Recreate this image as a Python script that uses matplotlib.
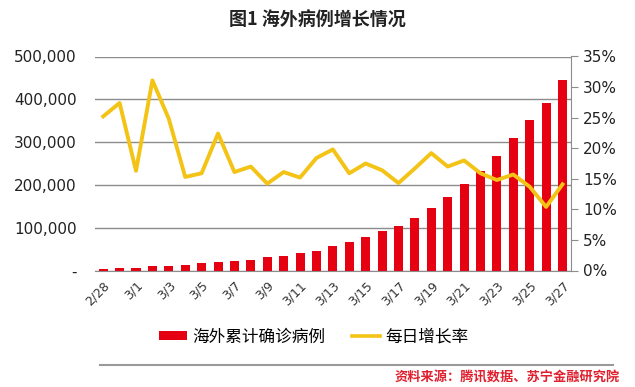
import matplotlib
matplotlib.use("Agg")
import matplotlib.pyplot as plt
from matplotlib.lines import Line2D
from matplotlib.patches import Patch
from matplotlib.ticker import FuncFormatter, PercentFormatter

plt.rcParams['font.family'] = ['DejaVu Sans', 'Noto Sans CJK SC']
CJK = ['Noto Sans CJK SC', 'DejaVu Sans']

# Data
dates = ["2/28", "2/29"] + [f"3/{d}" for d in range(1, 28)]
cases = [3000, 6500, 6500, 10000, 10000, 13500, 17000, 20000, 23000, 25000,
         31000, 35000, 41000, 46000, 58000, 67000, 79000, 92000, 104000, 122000,
         146000, 171000, 202000, 233000, 267000, 310000, 352000, 391000, 446000]
growth = [25.2, 27.4, 16.3, 31.1, 24.8, 15.3, 15.9, 22.4, 16.1, 17.0,
          14.2, 16.1, 15.2, 18.4, 19.8, 15.9, 17.5, 16.4, 14.3, 16.7,
          19.2, 17.0, 18.0, 15.9, 14.8, 15.7, 13.7, 10.4, 14.1]

BAR_RED = "#E50012"
LINE_YELLOW = "#F3C316"

fig = plt.figure(figsize=(6.35, 3.87), dpi=100)
ax = fig.add_axes([95 / 635, 1 - 270.5 / 387, (570.7 - 95) / 635, (270.5 - 56.5) / 387])
ax2 = ax.twinx()

x = list(range(len(dates)))
ax.bar(x, cases, width=0.55, color=BAR_RED, zorder=2)
ax2.plot(x, growth, color=LINE_YELLOW, lw=2.8, zorder=3)

ax.set_xlim(-0.5, len(dates) - 0.5)
ax.set_ylim(0, 500000)
ax.set_yticks(range(0, 500001, 100000))
ax.yaxis.set_major_formatter(FuncFormatter(lambda v, p: "-" if v == 0 else f"{int(v):,}"))
ax2.set_ylim(0, 35)
ax2.set_yticks(range(0, 36, 5))
ax2.yaxis.set_major_formatter(PercentFormatter(decimals=0))

ax.grid(axis="y", color="#8c8c8c", lw=1, zorder=0)
ax.set_axisbelow(True)

for a in (ax, ax2):
    for s in ("top", "left"):
        a.spines[s].set_visible(False)
ax.spines["right"].set_visible(False)
ax2.spines["bottom"].set_visible(False)
ax2.spines["right"].set_color("#8c8c8c")
ax.spines["bottom"].set_color("#8c8c8c")

ax.tick_params(axis="y", length=0, labelsize=11, labelcolor="#222222", pad=13)
ax2.tick_params(axis="y", length=5, color="#8c8c8c", labelsize=11, labelcolor="#222222", pad=4)

ax.set_xticks(x[::2])
ax.set_xticklabels(dates[::2], rotation=45, ha="right", rotation_mode="anchor",
                   fontsize=9, color="#333333")
ax.tick_params(axis="x", length=0, pad=6)

fig.text(0.5, 1 - 20 / 387, "图1 海外病例增长情况", ha="center", va="center",
         fontsize=13, fontweight="bold", family=CJK, color="#222222")

handles = [Patch(facecolor=BAR_RED, edgecolor="none"),
           Line2D([0], [0], color=LINE_YELLOW, lw=2.6)]
leg = fig.legend(handles, ["海外累计确诊病例", "每日增长率"], loc="center",
                 bbox_to_anchor=(0.494, 1 - 337 / 387), ncol=2, frameon=False,
                 prop={"family": CJK, "size": 12}, handlelength=1.7,
                 handleheight=0.5, handletextpad=0.3, columnspacing=1.6)

fig.add_artist(Line2D([100 / 635, 613 / 635], [1 - 365 / 387] * 2,
                      transform=fig.transFigure, color="#9a9a9a", lw=1.5))
fig.text(620 / 635, 1 - 378 / 387, "资料来源：腾讯数据、苏宁金融研究院", ha="right",
         va="center", fontsize=9.5, family=CJK, color="#E0202E", fontweight="bold")

fig.savefig("out.png", dpi=100)
